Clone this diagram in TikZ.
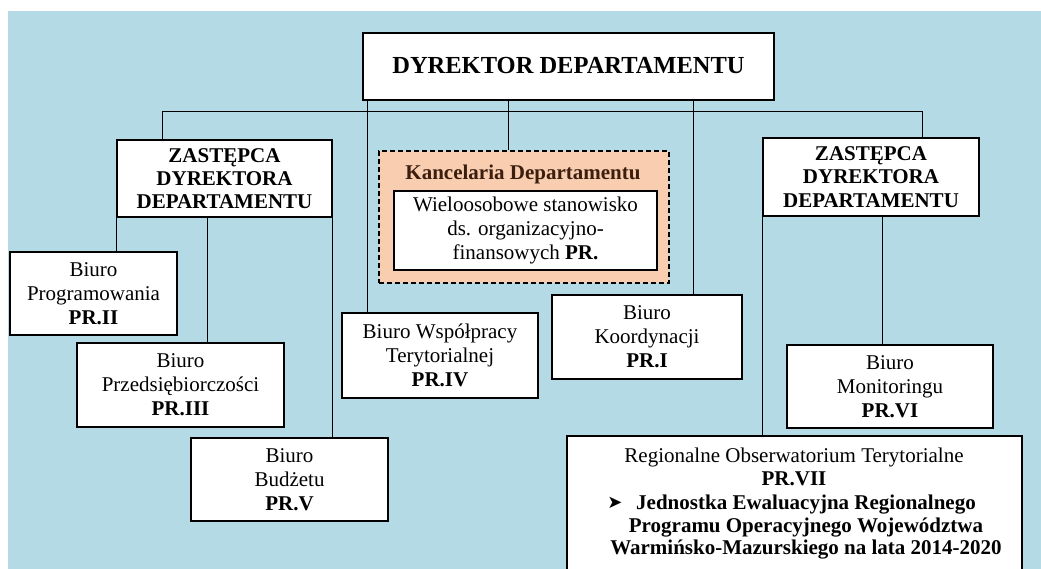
\documentclass[tikz,border=0pt]{standalone}
\usepackage{fontspec}
\setmainfont{Liberation Serif}
\newfontfamily\dejavu{DejaVu Sans}
\definecolor{bg}{RGB}{180,218,229}
\definecolor{peach}{RGB}{248,205,176}
\definecolor{ktitle}{RGB}{60,30,15}
\tikzset{
  unit/.style={draw=black, fill=white, line width=1.3pt, inner sep=0pt, align=center,
    font=\fontsize{21}{24}\selectfont},
  head/.style={unit, font=\bfseries\fontsize{21}{23.3}\selectfont},
  kancbox/.style={draw=black, fill=peach, line width=1.3pt, dash pattern=on 5pt off 3pt, inner sep=0pt},
  txtline/.style={anchor=base, inner sep=0pt, font=\fontsize{21}{24}\selectfont},
  boldline/.style={txtline, font=\bfseries\fontsize{21}{24}\selectfont},
  conn/.style={draw=black, line width=1.3pt},
}
\begin{document}
\begin{tikzpicture}[x=1pt,y=-1pt]
\useasboundingbox (0,0) rectangle (1041,569);
\clip (0,0) rectangle (1041,569);
\fill[white] (0,0) rectangle (1041,569);
\fill[bg] (8,11) rectangle (1041,569);

% nodes
\node[unit, font=\bfseries\fontsize{24.5}{28}\selectfont, minimum width=411pt, minimum height=67pt] (top) at (568.5,66.5) {\raisebox{3pt}{DYREKTOR DEPARTAMENTU}};
\node[head, minimum width=215pt, minimum height=77pt] (z1) at (224.5,178.5) {ZASTĘPCA\\DYREKTORA\\DEPARTAMENTU};
\node[head, minimum width=216pt, minimum height=78pt] (z2) at (871,177) {ZASTĘPCA\\DYREKTORA\\DEPARTAMENTU};
\node[kancbox, minimum width=290pt, minimum height=132pt] (kanc) at (524,217) {};
\node[boldline, text=ktitle] (kt) at (523,180) {Kancelaria Departamentu};
\node[unit, minimum width=263pt, minimum height=79pt] (kin) at (525.5,230.5) {Wieloosobowe stanowisko\\ds. organizacyjno-\\finansowych \textbf{PR.}};

\node[unit, minimum width=167pt, minimum height=83pt] (p2) at (93.5,293.5) {Biuro\\Programowania\\\textbf{PR.II}};
\node[unit, minimum width=207pt, minimum height=84pt] (p3) at (180.5,385) {Biuro\\Przedsiębiorczości\\\textbf{PR.III}};
\node[unit, minimum width=197pt, minimum height=83pt] (p5) at (289.5,479.5) {Biuro\\Budżetu\\\textbf{PR.V}};
\node[unit, minimum width=196pt, minimum height=85pt] (p4) at (440,355.5) {Biuro Współpracy\\Terytorialnej\\\textbf{PR.IV}};
\node[unit, minimum width=190pt, minimum height=84pt] (p1) at (647,337) {Biuro\\Koordynacji\\\textbf{PR.I}};
\node[unit, minimum width=206pt, minimum height=83pt] (p6) at (890,386.5) {Biuro\\Monitoringu\\\textbf{PR.VI}};
\node[unit, minimum width=455pt, minimum height=164pt] (p7) at (794.5,518) {};

\node[txtline] (r1) at (794,462) {Regionalne Obserwatorium Terytorialne};
\node[boldline] (r2) at (794,485) {PR.VII};
\node[txtline, font=\dejavu\fontsize{18}{20}\selectfont] (bul) at (615,508) {➤};
\node[boldline] (r3) at (806,509) {Jednostka Ewaluacyjna Regionalnego};
\node[boldline] (r4) at (806,532) {Programu Operacyjnego Województwa};
\node[boldline] (r5) at (806,554) {Warmińsko-Mazurskiego na lata 2014-2020};

% connectors
\draw[conn] ([xshift=46pt]z1.north west) -- ++(0,-28) -| ([xshift=-57pt]z2.north east);
\draw[conn] ([xshift=5pt]top.south west) -- ([xshift=26pt]p4.north west);
\draw[conn] ([xshift=146pt]top.south west) -- ([xshift=130pt]kanc.north west);
\draw[conn] ([xshift=331pt]top.south west) -- ([xshift=142pt]p1.north west);
\draw[conn] (z1.south west) -- ([xshift=107pt]p2.north west);
\draw[conn] ([xshift=91pt]z1.south west) -- ([xshift=131pt]p3.north west);
\draw[conn] (z1.south east) -- (z1.south east |- p5.north);
\draw[conn] (z2.south west) -- (z2.south west |- p7.north);
\draw[conn] ([xshift=120pt]z2.south west) -- ([xshift=96pt]p6.north west);
\end{tikzpicture}
\end{document}
